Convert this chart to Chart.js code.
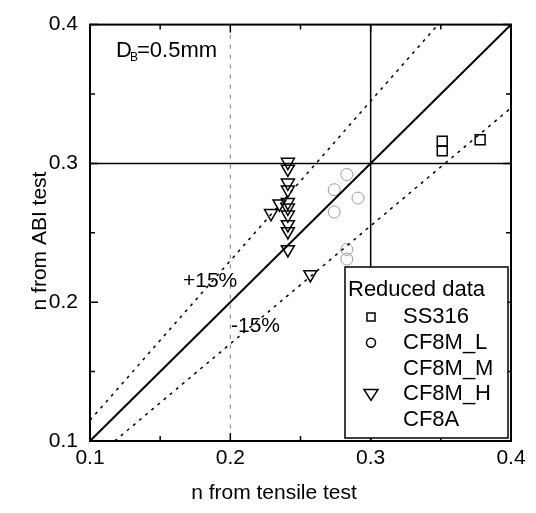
<!DOCTYPE html>
<html lang="en">
<head>
<meta charset="utf-8">
<title>n from ABI test vs tensile test</title>
<style>
  html, body { margin: 0; padding: 0; background: #fff; }
  #wrap { width: 536px; height: 513px; }
</style>
</head>
<body>
<div id="wrap"><canvas id="myChart" width="536" height="513"></canvas></div>

<script src="https://cdn.jsdelivr.net/npm/chart.js@4.4.0/dist/chart.umd.min.js"></script>
<script>
var FONT = '"Liberation Sans", Arial, sans-serif';

// axis ticks
var majorTicks = [0.1, 0.2, 0.3, 0.4];
var minorTicks = [0.15, 0.25, 0.35];

// SS316 (squares)
var ss316X = [0.351, 0.351, 0.378];
var ss316Y = [0.316, 0.309, 0.317];

// CF8M_L (circles, faint in print)
var cf8mLX = [0.274, 0.283, 0.291, 0.274, 0.283, 0.283];
var cf8mLY = [0.281, 0.292, 0.275, 0.265, 0.238, 0.231];

// CF8M_H (down triangles)
var cf8mHX = [0.241, 0.241, 0.241, 0.241, 0.241, 0.241, 0.241, 0.241, 0.241, 0.241, 0.235, 0.229, 0.257];
var cf8mHY = [0.301, 0.296, 0.286, 0.281, 0.272, 0.268, 0.263, 0.256, 0.251, 0.238, 0.271, 0.264, 0.220];

// reference lines: y = x and +/-15 %
var lineX  = [0.1, 0.4];
var lineY  = [0.1, 0.4];
var upperX = [0.1, 0.348];
var upperY = [0.115, 0.4];
var lowerX = [0.1176, 0.4];
var lowerY = [0.1, 0.34];

var legendTitle = 'Reduced data';

function pts(xs, ys) {
  var out = [];
  for (var i = 0; i < xs.length; i++) out.push({x: xs[i], y: ys[i]});
  return out;
}

function drawMarker(ctx, style, x, y, color) {
  ctx.save();
  ctx.strokeStyle = color;
  ctx.lineWidth = 1.5;
  ctx.beginPath();
  if (style === 'rect') {
    ctx.rect(x - 4, y - 4, 8, 8);
  } else if (style === 'circle') {
    ctx.arc(x, y, 4.5, 0, Math.PI * 2);
  } else if (style === 'triangle') {
    ctx.moveTo(x - 7, y - 5);
    ctx.lineTo(x + 7, y - 5);
    ctx.lineTo(x, y + 6);
    ctx.closePath();
  }
  ctx.stroke();
  ctx.restore();
}

var framePlugin = {
  id: 'frame',
  beforeDatasetsDraw: function(chart) {
    var ctx = chart.ctx, a = chart.chartArea;
    var xs = chart.scales.x, ys = chart.scales.y;
    ctx.save();
    // faint dashed line at 0.2
    ctx.strokeStyle = '#777';
    ctx.lineWidth = 1;
    ctx.setLineDash([4, 6]);
    var px = xs.getPixelForValue(0.2);
    ctx.beginPath(); ctx.moveTo(px, a.top); ctx.lineTo(px, a.bottom); ctx.stroke();
    ctx.setLineDash([]);
    // solid lines at 0.3
    ctx.strokeStyle = '#000';
    ctx.lineWidth = 1.5;
    px = xs.getPixelForValue(0.3);
    var py = ys.getPixelForValue(0.3);
    ctx.beginPath(); ctx.moveTo(px, a.top); ctx.lineTo(px, a.bottom); ctx.stroke();
    ctx.beginPath(); ctx.moveTo(a.left, py); ctx.lineTo(a.right, py); ctx.stroke();
    ctx.restore();
  },
  afterDatasetsDraw: function(chart) {
    var ctx = chart.ctx, a = chart.chartArea;
    var xs = chart.scales.x, ys = chart.scales.y;
    ctx.save();
    ctx.strokeStyle = '#000';
    ctx.lineWidth = 2;
    ctx.strokeRect(a.left, a.top, a.right - a.left, a.bottom - a.top);

    // inward ticks on all four sides
    ctx.lineWidth = 1.5;
    function tick(v, len) {
      var x = xs.getPixelForValue(v), y = ys.getPixelForValue(v);
      ctx.beginPath();
      ctx.moveTo(x, a.bottom); ctx.lineTo(x, a.bottom - len);
      ctx.moveTo(x, a.top); ctx.lineTo(x, a.top + len);
      ctx.moveTo(a.left, y); ctx.lineTo(a.left + len, y);
      ctx.moveTo(a.right, y); ctx.lineTo(a.right - len, y);
      ctx.stroke();
    }
    majorTicks.forEach(function(v) { tick(v, 8); });
    minorTicks.forEach(function(v) { tick(v, 5); });

    // annotations
    ctx.fillStyle = '#000';
    ctx.textBaseline = 'alphabetic';
    ctx.textAlign = 'left';
    ctx.font = '22px ' + FONT;
    ctx.fillText('D', 116, 57);
    ctx.font = '12px ' + FONT;
    ctx.fillText('B', 130, 61);
    ctx.font = '22px ' + FONT;
    ctx.fillText('=0.5mm', 137, 57);
    ctx.font = '21px ' + FONT;
    ctx.fillText('+15%', 183, 287);
    ctx.fillText('-15%', 231, 332);

    // legend box
    var lx = 345, ly = 267, lw = 163, lh = 171;
    ctx.fillStyle = '#fff';
    ctx.fillRect(lx, ly, lw, lh);
    ctx.strokeStyle = '#000';
    ctx.lineWidth = 1.5;
    ctx.strokeRect(lx, ly, lw, lh);
    ctx.fillStyle = '#000';
    ctx.font = '22px ' + FONT;
    ctx.textBaseline = 'middle';
    ctx.fillText(legendTitle, lx + 3, 290);
    var rowY = 317;
    chart.data.datasets.forEach(function(ds) {
      if (ds.legendRow === undefined) return;
      var y = rowY + ds.legendRow * 25.8;
      if (ds.legendMarker) drawMarker(ctx, ds.pointStyle, 371, y, '#000');
      ctx.fillStyle = '#000';
      ctx.fillText(ds.label, 403, y);
    });

    // axis titles
    ctx.font = '21px ' + FONT;
    ctx.textAlign = 'center';
    ctx.textBaseline = 'alphabetic';
    ctx.fillText('n from tensile test', 274, 499);
    ctx.translate(46, 241);
    ctx.rotate(-Math.PI / 2);
    ctx.fillText('n from ABI test', 0, 0);
    ctx.restore();
  }
};

var refLine = function(xs, ys, dash) {
  return {
    type: 'line',
    data: pts(xs, ys),
    borderColor: '#000',
    borderWidth: dash ? 1.5 : 2,
    borderDash: dash ? [3, 5] : [],
    pointRadius: 0,
    showLine: true,
    fill: false
  };
};

var ctx = document.getElementById('myChart').getContext('2d');

var config = {
  type: 'scatter',
  data: {
    datasets: [
      refLine(lineX, lineY, false),
      refLine(upperX, upperY, true),
      refLine(lowerX, lowerY, true),
      {
        label: 'SS316', legendRow: 0, legendMarker: true,
        data: pts(ss316X, ss316Y),
        pointStyle: 'rect', pointRadius: 7, borderWidth: 1.5,
        borderColor: '#000', backgroundColor: 'rgba(0,0,0,0)'
      },
      {
        label: 'CF8M_L', legendRow: 1, legendMarker: true,
        data: pts(cf8mLX, cf8mLY),
        pointStyle: 'circle', pointRadius: 6, borderWidth: 1,
        borderColor: '#9a9a9a', backgroundColor: 'rgba(0,0,0,0)'
      },
      {
        label: 'CF8M_M', legendRow: 2, legendMarker: false,
        data: [], pointStyle: 'circle'
      },
      {
        label: 'CF8M_H', legendRow: 3, legendMarker: true,
        data: pts(cf8mHX, cf8mHY),
        pointStyle: 'triangle', rotation: 180, pointRadius: 7.5, borderWidth: 1.5,
        borderColor: '#000', backgroundColor: 'rgba(0,0,0,0)'
      },
      {
        label: 'CF8A', legendRow: 4, legendMarker: false,
        data: [], pointStyle: 'circle'
      }
    ]
  },
  options: {
    responsive: false,
    animation: false,
    devicePixelRatio: 1,
    layout: { padding: { top: 20, right: 25, left: 0, bottom: 0 } },
    plugins: {
      legend: { display: false },
      tooltip: { enabled: false }
    },
    scales: {
      x: {
        type: 'linear', min: 0.1, max: 0.4,
        afterBuildTicks: function(s) { s.ticks = majorTicks.map(function(v) { return {value: v}; }); },
        afterFit: function(s) { s.height = 72; },
        grid: { display: false, drawTicks: false },
        border: { display: false },
        ticks: {
          padding: 5, color: '#000',
          font: { family: FONT, size: 21 },
          callback: function(v) { return v.toFixed(1); }
        }
      },
      y: {
        type: 'linear', min: 0.1, max: 0.4,
        afterBuildTicks: function(s) { s.ticks = majorTicks.map(function(v) { return {value: v}; }); },
        afterFit: function(s) { s.width = 90; },
        grid: { display: false, drawTicks: false },
        border: { display: false },
        ticks: {
          padding: 12, color: '#000',
          font: { family: FONT, size: 21 },
          callback: function(v) { return v.toFixed(1); }
        }
      }
    }
  },
  plugins: [framePlugin]
};

var chart = new Chart(ctx, config);
</script>
</body>
</html>
